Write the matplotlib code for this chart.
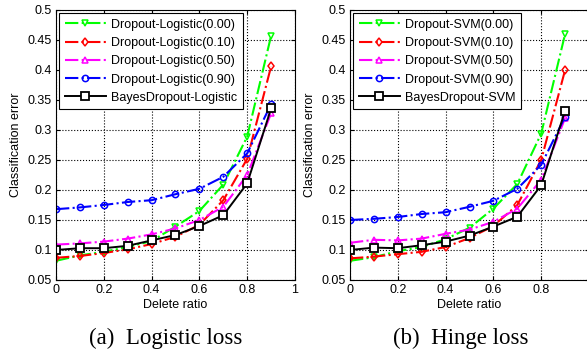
import matplotlib
matplotlib.use('Agg')
import matplotlib.pyplot as plt
from matplotlib.ticker import FuncFormatter

# Data
delete_ratio = [0, 0.1, 0.2, 0.3, 0.4, 0.5, 0.6, 0.7, 0.8, 0.9]

log_p000 = [0.082, 0.091, 0.097, 0.105, 0.115, 0.139, 0.165, 0.209, 0.289, 0.457]
log_p010 = [0.087, 0.090, 0.095, 0.101, 0.110, 0.122, 0.142, 0.183, 0.252, 0.406]
log_p050 = [0.109, 0.111, 0.114, 0.119, 0.126, 0.136, 0.150, 0.172, 0.225, 0.328]
log_p090 = [0.168, 0.171, 0.175, 0.180, 0.183, 0.193, 0.202, 0.222, 0.261, 0.343]
log_bayes = [0.100, 0.103, 0.103, 0.107, 0.116, 0.125, 0.140, 0.158, 0.211, 0.336]

svm_p000 = [0.082, 0.088, 0.098, 0.105, 0.118, 0.137, 0.169, 0.210, 0.294, 0.460]
svm_p010 = [0.086, 0.089, 0.093, 0.097, 0.105, 0.120, 0.140, 0.175, 0.250, 0.400]
svm_p050 = [0.112, 0.117, 0.116, 0.119, 0.127, 0.134, 0.147, 0.169, 0.217, 0.320]
svm_p090 = [0.150, 0.152, 0.155, 0.160, 0.163, 0.172, 0.182, 0.202, 0.242, 0.322]
svm_bayes = [0.100, 0.104, 0.103, 0.108, 0.114, 0.124, 0.139, 0.1555, 0.208, 0.332]

drop_rates = ['0.00', '0.10', '0.50', '0.90']
colors = ['#00ff00', '#ff0000', '#ff00ff', '#0000ff']
markers = ['v', 'd', '^', 'o']
x_ticks = [0, 0.2, 0.4, 0.6, 0.8, 1]
y_ticks = [0.05, 0.1, 0.15, 0.2, 0.25, 0.3, 0.35, 0.4, 0.45, 0.5]

plt.rcParams['font.family'] = ['Liberation Sans', 'DejaVu Sans']
plt.rcParams['font.size'] = 9

fig = plt.figure(figsize=(5.87, 3.54), dpi=100)

def draw_panel(ax, series, bayes, name, hide_last_x=False):
    for s, rate, c, m in zip(series, drop_rates, colors, markers):
        ax.plot(delete_ratio, s, linestyle='-.', color=c, marker=m, markersize=4.5,
                markerfacecolor='none', markeredgecolor=c, markeredgewidth=1.1,
                linewidth=1.5, label='Dropout-%s(%s)' % (name, rate))
    ax.plot(delete_ratio, bayes, '-s', color='black', markersize=5.5,
            markerfacecolor='white', markeredgewidth=1.3, linewidth=1.4,
            label='BayesDropout-%s' % name)
    ax.set_xlim(0, 1)
    ax.set_ylim(0.05, 0.5)
    ax.set_xticks(x_ticks)
    ax.set_yticks(y_ticks)
    if hide_last_x:
        # the right panel is cut at the edge of the page, its "1" is not shown
        ax.set_xticklabels(['%g' % v for v in x_ticks[:-1]] + [''])
    else:
        ax.xaxis.set_major_formatter(FuncFormatter(lambda v, p: '%g' % v))
    ax.yaxis.set_major_formatter(FuncFormatter(lambda v, p: '%g' % v))
    ax.grid(True, linestyle=':', color='black', linewidth=0.8)
    ax.tick_params(direction='in', length=3, top=True, right=True, labelsize=9, pad=3)
    ax.set_xlabel('Delete ratio', fontsize=9, labelpad=2)
    ax.set_ylabel('Classification error', fontsize=9, labelpad=4)
    leg = ax.legend(loc='upper left', fontsize=9, handlelength=3.3, labelspacing=0.5,
                    borderaxespad=0.25, fancybox=False, framealpha=1, edgecolor='black',
                    borderpad=0.45, handletextpad=0.4)
    leg.get_frame().set_linewidth(0.8)

ax1 = fig.add_axes([56/587, 74/354, 239/587, 270/354])
draw_panel(ax1, [log_p000, log_p010, log_p050, log_p090], log_bayes, 'Logistic')
ax2 = fig.add_axes([350/587, 74/354, 239/587, 270/354])
draw_panel(ax2, [svm_p000, svm_p010, svm_p050, svm_p090], svm_bayes, 'SVM', hide_last_x=True)

fig.text(166/587, 1 - 338/354, '(a)  Logistic loss', ha='center', va='center',
         fontsize=16.5, family=['Liberation Serif'])
fig.text(461/587, 1 - 338/354, '(b)  Hinge loss', ha='center', va='center',
         fontsize=16.5, family=['Liberation Serif'])

fig.savefig('out.png', dpi=100)
